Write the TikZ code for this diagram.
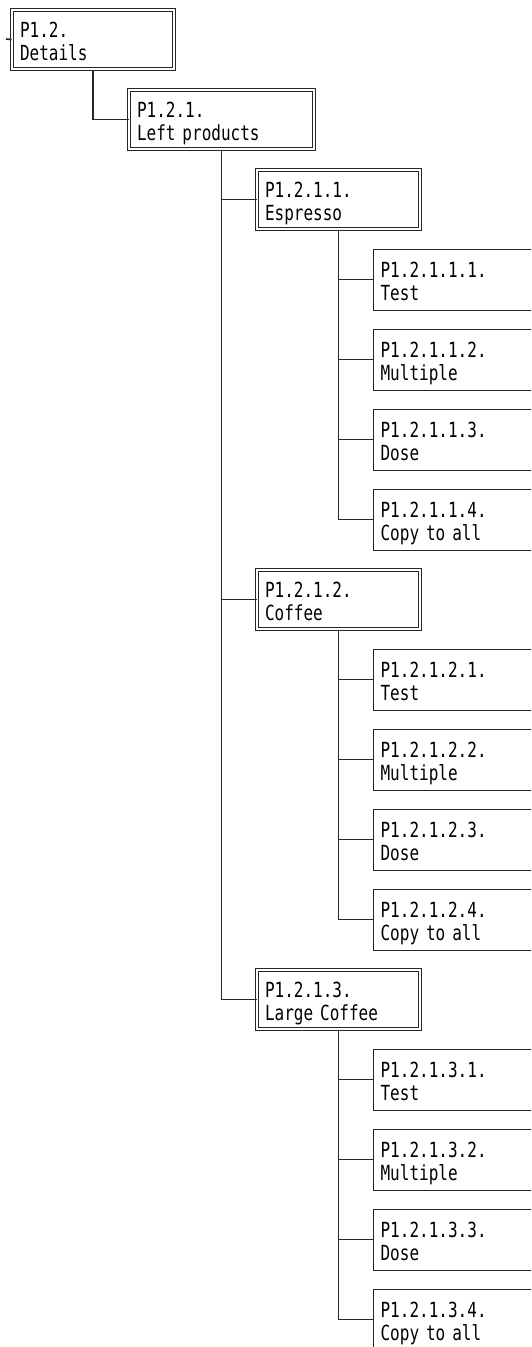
\documentclass[tikz,border=0pt]{standalone}
\usepackage{fontspec}
\newfontfamily\panelfont[FakeStretch=0.77]{DejaVu Sans Mono}
\usepackage{tikz}
\usetikzlibrary{positioning}

\tikzset{
  menubox/.style={draw=black!85, double, line width=1pt, double distance=1.4pt,
    anchor=north west, inner xsep=8pt, inner ysep=0pt, align=left,
    text height=27.5pt, text depth=31.5pt,
    font=\panelfont\fontsize{20.8}{23}\selectfont},
  leafbox/.style={draw=black!85, line width=1.2pt,
    anchor=north west, inner xsep=7.5pt, inner ysep=0pt, text width=150pt, align=left,
    text height=28.5pt, text depth=32.5pt,
    font=\panelfont\fontsize{20.8}{23}\selectfont},
  wire/.style={draw=black!85, line width=1.6pt}
}

\begin{document}
\begin{tikzpicture}[x=1pt,y=-1pt]
 \useasboundingbox (0,0) rectangle (531,1347);
 \clip (0,0) rectangle (531,1347);
 \coordinate (in) at (6,39);
%top
  \node[menubox,text width=146pt] (d12) at (11.5,9.5) {P1.2.\\Details};
  \node[menubox,text width=169pt] (d121) at (128.5,89.5) {P1.2.1.\\Left products};
%espresso
  \node[menubox,text width=147pt] (d1211) at (256.5,169.5) {P1.2.1.1.\\Espresso};
  \node[leafbox] (d12111) at (372.5,248.5) {P1.2.1.1.1.\\Test};
  \node[leafbox] (d12112) at (372.5,328.5) {P1.2.1.1.2.\\Multiple};
  \node[leafbox] (d12113) at (372.5,408.5) {P1.2.1.1.3.\\Dose};
  \node[leafbox] (d12114) at (372.5,488.5) {P1.2.1.1.4.\\Copy to all};
%coffee
  \node[menubox,text width=147pt] (d1212) at (256.5,569.5) {P1.2.1.2.\\Coffee};
  \node[leafbox] (d12121) at (372.5,648.5) {P1.2.1.2.1.\\Test};
  \node[leafbox] (d12122) at (372.5,728.5) {P1.2.1.2.2.\\Multiple};
  \node[leafbox] (d12123) at (372.5,808.5) {P1.2.1.2.3.\\Dose};
  \node[leafbox] (d12124) at (372.5,888.5) {P1.2.1.2.4.\\Copy to all};
%large coffee
  \node[menubox,text width=147pt] (d1213) at (256.5,969.5) {P1.2.1.3.\\Large Coffee};
  \node[leafbox] (d12131) at (372.5,1048.5) {P1.2.1.3.1.\\Test};
  \node[leafbox] (d12132) at (372.5,1128.5) {P1.2.1.3.2.\\Multiple};
  \node[leafbox] (d12133) at (372.5,1208.5) {P1.2.1.3.3.\\Dose};
  \node[leafbox] (d12134) at (372.5,1288.5) {P1.2.1.3.4.\\Copy to all};
%wires
  \draw[wire] (in) -- (d12.west);
  \draw[wire] (d12.south) |- (d121.west);
  \draw[wire] (d121.south) |- (d1211.west);
  \draw[wire] (d121.south) |- (d1212.west);
  \draw[wire] (d121.south) |- (d1213.west);
  \draw[wire] (d1211.south) |- (d12111.west);
  \draw[wire] (d1211.south) |- (d12112.west);
  \draw[wire] (d1211.south) |- (d12113.west);
  \draw[wire] (d1211.south) |- (d12114.west);
  \draw[wire] (d1212.south) |- (d12121.west);
  \draw[wire] (d1212.south) |- (d12122.west);
  \draw[wire] (d1212.south) |- (d12123.west);
  \draw[wire] (d1212.south) |- (d12124.west);
  \draw[wire] (d1213.south) |- (d12131.west);
  \draw[wire] (d1213.south) |- (d12132.west);
  \draw[wire] (d1213.south) |- (d12133.west);
  \draw[wire] (d1213.south) |- (d12134.west);
\end{tikzpicture}
\end{document}
